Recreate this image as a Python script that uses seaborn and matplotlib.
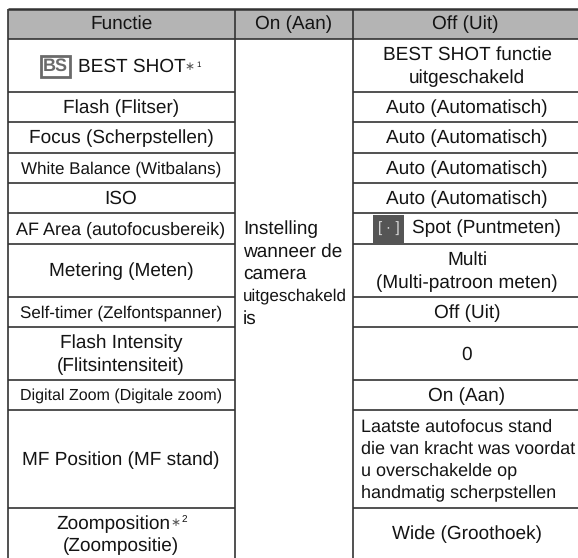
import matplotlib.pyplot as plt
import seaborn as sns
from matplotlib.patches import Rectangle

# Table content
headers = ["Functie", "On (Aan)", "Off (Uit)"]
functie = [
    "BEST SHOT", "Flash (Flitser)", "Focus (Scherpstellen)", "White Balance (Witbalans)",
    "ISO", "AF Area (autofocusbereik)", "Metering (Meten)", "Self-timer (Zelfontspanner)",
    "Flash Intensity\n(Flitsintensiteit)", "Digital Zoom (Digitale zoom)",
    "MF Position (MF stand)", "Zoomposition\n(Zoompositie)",
]
uit = [
    "BEST SHOT functie\nuitgeschakeld", "Auto (Automatisch)", "Auto (Automatisch)",
    "Auto (Automatisch)", "Auto (Automatisch)", "Spot (Puntmeten)",
    "Multi\n(Multi-patroon meten)", "Off (Uit)", "0", "On (Aan)",
    "Laatste autofocus stand\ndie van kracht was voordat\nu overschakelde op\nhandmatig scherpstellen",
    "Wide (Groothoek)",
]
aan = ["Instelling", "wanneer de", "camera", "uitgeschakeld", "is"]
functie_sizes = [13.65, 13.65, 13.65, 12.6, 13.65, 12.8, 13.65, 12.55, 13.65, 11.7, 13.65, 13.65]

row_edges = [9, 39, 92, 122, 153, 183, 213, 244, 297, 327, 380, 410, 508, 558]
col_edges = [8, 235, 353, 578]
line_col = "#333333"

sns.set_theme(style="white")
plt.rcParams["font.family"] = ["Liberation Sans", "DejaVu Sans"]
plt.rcParams["text.hinting"] = "none"
plt.rcParams["text.hinting_factor"] = 1

fig = plt.figure(figsize=(5.78, 5.58), dpi=100)
ax = fig.add_axes([0, 0, 1, 1])
ax.set_xlim(0, 578)
ax.set_ylim(558, 0)
ax.axis("off")

ink = "#141414"
fs = 13.65
ax.add_patch(Rectangle((col_edges[0], row_edges[0]), col_edges[3] - col_edges[0], row_edges[1] - row_edges[0],
                       fc="#b4b4b4", ec="none"))

# grid lines, middle column has no inner rows
ax.hlines(row_edges[0], col_edges[0], col_edges[3], color=line_col, lw=1.8)
ax.hlines(row_edges[1], col_edges[0], col_edges[3], color=line_col, lw=1.2)
for y in row_edges[2:-1]:
    ax.hlines(y, col_edges[0], col_edges[1], color=line_col, lw=1.2)
    ax.hlines(y, col_edges[2], col_edges[3], color=line_col, lw=1.2)
ax.vlines(col_edges[:3], row_edges[0], row_edges[-1], color=line_col, lw=1.2)

# header
for i, h in enumerate(headers):
    ax.text((col_edges[i] + col_edges[i + 1]) / 2, 24, h, ha="center", va="center", fontsize=fs, color=ink)

# first column
for i, t in enumerate(functie):
    yc = (row_edges[i + 1] + row_edges[i + 2]) / 2 + 1
    if i == 0:
        ax.add_patch(Rectangle((41, 56), 29, 21, fc="white", ec="#6a6a6a", lw=2))
        ax.text(55.5, 66.5, "BS", ha="center", va="center", fontsize=13, color="#6a6a6a", fontweight="bold")
        ax.text(78, yc, t, ha="left", va="center", fontsize=13.5, color=ink)
        ax.text(184.5, yc, "∗", ha="left", va="center", fontsize=8.5, color="#555555")
        ax.text(196, yc - 2, "1", ha="left", va="center", fontsize=6, color=ink)
    elif i == 11:
        ax.text(56, 524, "Zoomposition", ha="left", va="center", fontsize=fs, color=ink)
        ax.text(170, 523, "∗", ha="left", va="center", fontsize=8.5, color="#555555")
        ax.text(181, 519, "2", ha="left", va="center", fontsize=7, color=ink)
        ax.text(121, 546, "(Zoompositie)", ha="center", va="center", fontsize=fs, color=ink)
    else:
        ax.text(121, yc, t, ha="center", va="center", fontsize=functie_sizes[i], color=ink, linespacing=1.35)

# middle column, one merged cell
for n, t in enumerate(aan):
    ax.text(243, 229 + n * 22.5, t, ha="left", va="center", fontsize=fs if n != 3 else 12.1, color=ink)

# last column
for i, t in enumerate(uit):
    yc = (row_edges[i + 1] + row_edges[i + 2]) / 2 + 1
    if i == 5:
        ax.add_patch(Rectangle((373, 215), 31, 28, fc="#555555", ec="none"))
        ax.text(388.5, 228, "[ · ]", ha="center", va="center", fontsize=11, color="#dddddd")
        ax.text(412, yc - 1, t, ha="left", va="center", fontsize=fs, color=ink)
    elif i == 10:
        ax.text(361, yc, t, ha="left", va="center", fontsize=13.15, color=ink, linespacing=1.4)
    else:
        ax.text(467, yc, t, ha="center", va="center", fontsize=fs, color=ink, linespacing=1.35)

fig.savefig("out.png", dpi=100)
